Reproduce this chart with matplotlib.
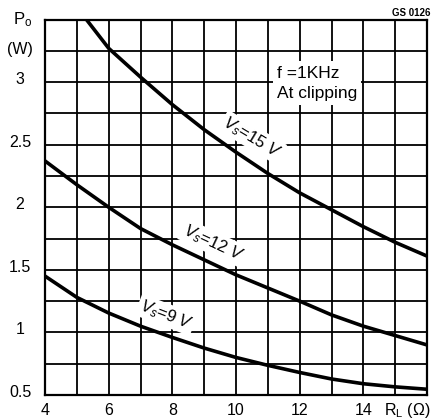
import numpy as np
import matplotlib
matplotlib.use("Agg")
import matplotlib.pyplot as plt
import matplotlib.transforms as mtransforms

plt.rcParams['font.family'] = ['Liberation Sans', 'DejaVu Sans']
plt.rcParams['mathtext.fontset'] = 'custom'
plt.rcParams['mathtext.rm'] = 'Liberation Sans'
plt.rcParams['mathtext.it'] = 'Liberation Sans:italic'

# load resistance R_L (ohm) vs output power P_o (W)
r_15v = [5.3, 6, 7, 8, 9, 10, 11, 12, 13, 14, 15, 16]
p_15v = [3.5, 3.27, 3.04, 2.82, 2.62, 2.44, 2.27, 2.115, 1.98, 1.845, 1.72, 1.61]

r_12v = [4, 5, 6, 7, 8, 9, 10, 11, 12, 13, 14, 15, 16]
p_12v = [2.37, 2.18, 2.0, 1.83, 1.70, 1.58, 1.46, 1.355, 1.25, 1.14, 1.05, 0.975, 0.90]

r_9v = [4, 5, 6, 7, 8, 9, 10, 11, 12, 13, 14, 15, 16]
p_9v = [1.45, 1.28, 1.155, 1.05, 0.96, 0.875, 0.80, 0.737, 0.68, 0.628, 0.59, 0.565, 0.546]

x_ticks = [4, 6, 8, 10, 12, 14]
x_tick_labels = ['4', '6', '8', '10', '12', '14']
y_ticks = [0.5, 1, 1.5, 2, 2.5, 3]
y_tick_labels = ['0.5', '1', '1.5', '2', '2.5', '3']

fig = plt.figure(figsize=(4.32, 4.2), dpi=100)
ax = fig.add_axes([45 / 432, 25 / 420, 382 / 432, 375.5 / 420])

ax.set_xlim(4, 16)
ax.set_ylim(0.5, 3.5)

# grid: one line per ohm, one per 0.25 W
ax.set_xticks(x_ticks)
ax.set_xticklabels(x_tick_labels)
ax.set_xticks(np.arange(4, 16.01, 1), minor=True)
ax.set_yticks(y_ticks)
ax.set_yticklabels(y_tick_labels, ha='center')
ax.set_yticks(np.arange(0.5, 3.51, 0.25), minor=True)
ax.grid(which='both', color='black', linewidth=1.3)
ax.set_axisbelow(True)
ax.tick_params(which='both', length=0)
ax.tick_params(axis='x', pad=6, labelsize=11.5)
ax.tick_params(axis='y', pad=18, labelsize=11.5)
for sp in ax.spines.values():
    sp.set_linewidth(1.6)

up = mtransforms.ScaledTranslation(0, 3 / 72, fig.dpi_scale_trans)
for lbl in ax.get_yticklabels():
    lbl.set_transform(lbl.get_transform() + up)

# curves
for r, p in [(r_15v, p_15v), (r_12v, p_12v), (r_9v, p_9v)]:
    ax.plot(r, p, color='black', linewidth=2.6, solid_joinstyle='round',
            zorder=5)

box = dict(facecolor='white', edgecolor='none', pad=1.5)
ax.text(10.5, 2.56, r'$V_s$=15 $V$', rotation=-31, ha='center', va='center',
        fontsize=12, bbox=box, zorder=4, rotation_mode='anchor')
ax.text(9.28, 1.715, r'$V_s$=12 $V$', rotation=-25, ha='center', va='center',
        fontsize=12, bbox=box, zorder=4, rotation_mode='anchor')
ax.text(7.8, 1.14, r'$V_s$=9 $V$', rotation=-21, ha='center', va='center',
        fontsize=12, bbox=box, zorder=4, rotation_mode='anchor')

ax.text(0.607, 0.83, 'f =1KHz\nAt clipping', transform=ax.transAxes,
        ha='left', va='center', fontsize=12.5, linespacing=1.45,
        bbox=dict(facecolor='white', edgecolor='none', pad=3), zorder=4)

# axis titles
ax.annotate(r'P$_{\rm o}$', xy=(0, 3.5), xycoords=('axes fraction', 'data'),
            xytext=(-16, 0), textcoords='offset points',
            ha='center', va='center', fontsize=12)
ax.annotate('(W)', xy=(0, 3.25), xycoords=('axes fraction', 'data'),
            xytext=(-18, 1), textcoords='offset points',
            ha='center', va='center', fontsize=11.5)
ax.annotate(r'R$_{\rm L}$ (Ω)', xy=(1, 0), xycoords='axes fraction',
            xytext=(-14, -11), textcoords='offset points',
            ha='center', va='center', fontsize=11.5)

ax.text(1.01, 1.004, 'GS 0126', transform=ax.transAxes, ha='right',
        va='bottom', fontsize=7, fontweight='bold')

fig.savefig('out.png', dpi=100)
